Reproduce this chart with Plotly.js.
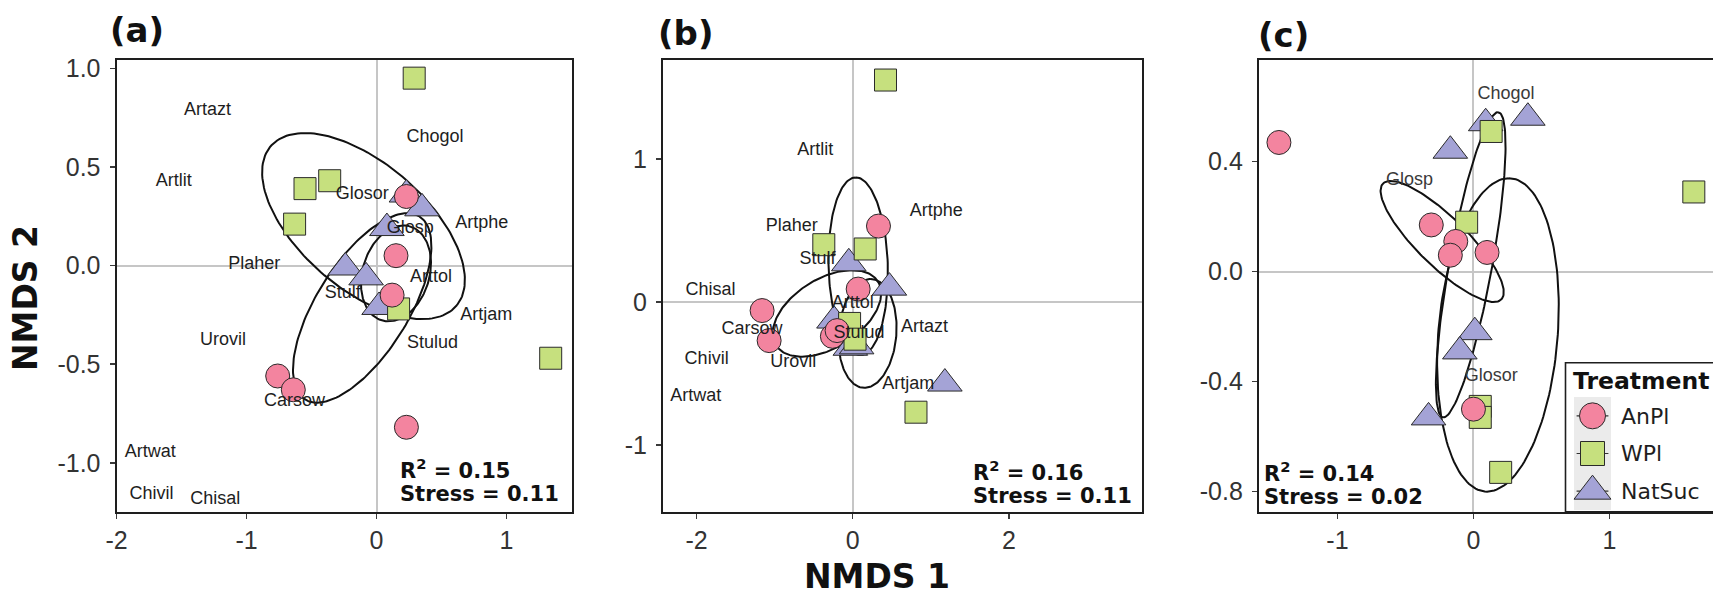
<!DOCTYPE html>
<html>
<head>
<meta charset="utf-8">
<script src="https://cdn.plot.ly/plotly-3.0.1.min.js"></script>
<style>
  html, body { margin: 0; padding: 0; background: #ffffff; overflow: hidden; }
  #fig { width: 1713px; height: 595px; }
</style>
</head>
<body>
<div id="fig"></div>
<script>
// ---------- data ----------
const TREATMENTS = ['AnPl', 'WPl', 'NatSuc'];

// (a) site scores
const A_ANPL_X = [0.23, 0.15, 0.12, -0.76, -0.64, 0.23];
const A_ANPL_Y = [0.35, 0.05, -0.15, -0.56, -0.63, -0.82];
const A_WPL_X = [0.29, -0.36, -0.55, -0.63, 0.17, 1.34];
const A_WPL_Y = [0.95, 0.43, 0.39, 0.21, -0.22, -0.47];
const A_NATSUC_X = [0.23, 0.35, 0.08, -0.24, -0.08, 0.02];
const A_NATSUC_Y = [0.36, 0.29, 0.19, -0.01, -0.06, -0.21];
// (a) species scores
const A_SPECIES = ['Artazt', 'Chogol', 'Artlit', 'Glosor', 'Artphe', 'Glosp', 'Plaher', 'Arttol',
                   'Stulf', 'Artjam', 'Urovil', 'Stulud', 'Carsow', 'Artwat', 'Chivil', 'Chisal'];
const A_SPECIES_X = [-1.30, 0.45, -1.56, -0.11, 0.81, 0.26, -0.94, 0.42,
                     -0.26, 0.845, -1.18, 0.43, -0.63, -1.74, -1.73, -1.24];
const A_SPECIES_Y = [0.785, 0.65, 0.426, 0.358, 0.211, 0.19, 0.007, -0.059,
                     -0.14, -0.252, -0.378, -0.395, -0.69, -0.948, -1.159, -1.184];
// (a) group ellipses: centre x, centre y, then two conjugate semi-diameters (x, y)
const A_ELLIPSE_ANPL = [-0.11, -0.215, 0.44, 0.464, -0.30, 0.124];
const A_ELLIPSE_WPL = [-0.10, 0.20, 0.72, -0.40, 0.30, 0.25];
const A_ELLIPSE_NATSUC = [0.15, -0.04, 0.10, 0.24, 0.25, -0.04];
const A_STATS = ['0.15', '0.11'];

// (b) site scores
const B_ANPL_X = [0.33, 0.07, -1.16, -1.07, -0.26, -0.20];
const B_ANPL_Y = [0.53, 0.09, -0.06, -0.27, -0.24, -0.20];
const B_WPL_X = [0.42, -0.37, 0.16, -0.04, 0.03, 0.81];
const B_WPL_Y = [1.55, 0.40, 0.37, -0.15, -0.26, -0.77];
const B_NATSUC_X = [-0.05, 0.47, -0.24, -0.03, 0.05, 1.18];
const B_NATSUC_Y = [0.27, 0.10, -0.13, -0.32, -0.31, -0.57];
// (b) species scores
const B_SPECIES = ['Artlit', 'Artphe', 'Plaher', 'Stulf', 'Chisal', 'Arttol', 'Artazt',
                   'Carsow', 'Stulud', 'Chivil', 'Urovil', 'Artjam', 'Artwat'];
const B_SPECIES_X = [-0.48, 1.07, -0.78, -0.45, -1.82, 0.0, 0.92, -1.29, 0.08, -1.87, -0.76, 0.71, -2.01];
const B_SPECIES_Y = [1.06, 0.635, 0.53, 0.30, 0.08, -0.01, -0.18, -0.19, -0.22, -0.40, -0.42, -0.58, -0.66];
// (b) group ellipses
const B_ELLIPSE_ANPL = [-0.33, -0.08, 0.69, 0.17, -0.08, 0.25];
const B_ELLIPSE_WPL = [0.07, 0.25, -0.03, 0.62, 0.38, 0.0];
const B_ELLIPSE_NATSUC = [0.19, -0.22, 0.04, 0.38, 0.37, 0.0];
const B_STATS = ['0.16', '0.11'];

// (c) site scores
const C_ANPL_X = [-1.43, -0.31, -0.13, -0.17, 0.10, 0.0];
const C_ANPL_Y = [0.47, 0.17, 0.11, 0.06, 0.07, -0.50];
const C_WPL_X = [0.13, -0.05, 1.62, 0.05, 0.05, 0.20];
const C_WPL_Y = [0.51, 0.18, 0.29, -0.49, -0.53, -0.73];
const C_NATSUC_X = [0.09, 0.40, -0.17, 0.01, -0.10, -0.33];
const C_NATSUC_Y = [0.54, 0.56, 0.44, -0.22, -0.29, -0.53];
// (c) species scores
const C_SPECIES = ['Chogol', 'Glosp', 'Glosor'];
const C_SPECIES_X = [0.24, -0.47, 0.13];
const C_SPECIES_Y = [0.645, 0.33, -0.38];
// (c) group ellipses
const C_ELLIPSE_ANPL = [-0.23, 0.11, 0.45, -0.17, -0.05, 0.14];
const C_ELLIPSE_WPL = [-0.02, 0.025, 0.20, 0.555, 0.16, 0.0];
const C_ELLIPSE_NATSUC = [0.18, -0.23, 0.08, 0.57, 0.44, 0.0];
const C_STATS = ['0.14', '0.02'];

// tick labels
const A_XTICKS = [-2, -1, 0, 1];
const A_XLABELS = ['-2', '-1', '0', '1'];
const A_YTICKS = [1.0, 0.5, 0.0, -0.5, -1.0];
const A_YLABELS = ['1.0', '0.5', '0.0', '-0.5', '-1.0'];
const B_XTICKS = [-2, 0, 2];
const B_XLABELS = ['-2', '0', '2'];
const B_YTICKS = [1, 0, -1];
const B_YLABELS = ['1', '0', '-1'];
const C_XTICKS = [-1, 0, 1];
const C_XLABELS = ['-1', '0', '1'];
const C_YTICKS = [0.4, 0.0, -0.4, -0.8];
const C_YLABELS = ['0.4', '0.0', '-0.4', '-0.8'];

// ---------- styling ----------
const W = 1713, H = 595;
const px = v => v / W;          // pixel column -> paper x
const py = v => 1 - v / H;      // pixel row -> paper y

const FILL = { AnPl: '#F3849F', WPl: '#C6E07E', NatSuc: '#A4A3D6' };
const SYMBOL = { AnPl: 'circle', WPl: 'square', NatSuc: 'triangle-up' };
const SIZE = { AnPl: 24, WPl: 22, NatSuc: 30 };
const EDGE = '#2a2a2a';
const SANS = 'Liberation Sans, Arial, sans-serif';
const TICKFONT = { family: SANS, size: 25, color: '#333333' };
const BOLD = 'DejaVu Sans, Verdana, sans-serif';

function ellipse(p, xa, ya) {
  const xs = [], ys = [];
  const n = 160;
  for (let i = 0; i <= n; i++) {
    const t = 2 * Math.PI * i / n;
    xs.push(p[0] + p[2] * Math.cos(t) + p[4] * Math.sin(t));
    ys.push(p[1] + p[3] * Math.cos(t) + p[5] * Math.sin(t));
  }
  return { type: 'scatter', mode: 'lines', x: xs, y: ys, xaxis: xa, yaxis: ya,
           line: { color: '#111111', width: 2 }, hoverinfo: 'skip', showlegend: false };
}

function sites(group, x, y, xa, ya) {
  return { type: 'scatter', mode: 'markers', x: x, y: y, xaxis: xa, yaxis: ya, name: group,
           marker: { symbol: SYMBOL[group], size: SIZE[group], color: FILL[group],
                     line: { color: EDGE, width: 1 } },
           cliponaxis: false, showlegend: false, hoverinfo: 'x+y' };
}

function species(names, x, y, xa, ya, color) {
  return { type: 'scatter', mode: 'text', x: x, y: y, text: names, xaxis: xa, yaxis: ya,
           textposition: 'middle center',
           textfont: { family: SANS, size: 18, color: color },
           hoverinfo: 'text', showlegend: false, cliponaxis: false };
}

const traces = [];
function panel(xa, ya, ells, nat, wpl, anpl, sp, spColor) {
  ells.forEach(e => traces.push(ellipse(e, xa, ya)));
  traces.push(sites('NatSuc', nat[0], nat[1], xa, ya));
  traces.push(sites('WPl', wpl[0], wpl[1], xa, ya));
  traces.push(sites('AnPl', anpl[0], anpl[1], xa, ya));
  traces.push(species(sp[0], sp[1], sp[2], xa, ya, spColor));
}

panel('x', 'y', [A_ELLIPSE_WPL, A_ELLIPSE_ANPL, A_ELLIPSE_NATSUC],
      [A_NATSUC_X, A_NATSUC_Y], [A_WPL_X, A_WPL_Y], [A_ANPL_X, A_ANPL_Y],
      [A_SPECIES, A_SPECIES_X, A_SPECIES_Y], '#1e1e1e');
panel('x2', 'y2', [B_ELLIPSE_WPL, B_ELLIPSE_ANPL, B_ELLIPSE_NATSUC],
      [B_NATSUC_X, B_NATSUC_Y], [B_WPL_X, B_WPL_Y], [B_ANPL_X, B_ANPL_Y],
      [B_SPECIES, B_SPECIES_X, B_SPECIES_Y], '#1e1e1e');
panel('x3', 'y3', [C_ELLIPSE_WPL, C_ELLIPSE_ANPL, C_ELLIPSE_NATSUC],
      [C_NATSUC_X, C_NATSUC_Y], [C_WPL_X, C_WPL_Y], [C_ANPL_X, C_ANPL_Y],
      [C_SPECIES, C_SPECIES_X, C_SPECIES_Y], '#3a3a3a');

// legend keys: one marker per treatment on its own small axis
TREATMENTS.forEach(g => {
  traces.push({
    type: 'scatter', mode: 'markers', x: [0], y: [g], xaxis: 'x4', yaxis: 'y4', name: g,
    marker: { symbol: SYMBOL[g], size: SIZE[g] + 2, color: FILL[g], line: { color: EDGE, width: 1 } },
    error_x: { type: 'constant', value: 0.86, width: 0, thickness: 1.2, color: '#333333' },
    showlegend: false, hoverinfo: 'name', cliponaxis: false
  });
});

// ---------- axes ----------
const PLOT_TOP = 60, PLOT_BOTTOM = 511.7;
function axis(domain, range, vals, labels, anchor, isX, mirror) {
  return {
    domain: domain, range: range, anchor: anchor, autorange: false,
    showgrid: false, zeroline: true, zerolinecolor: '#c6c6c6', zerolinewidth: 2,
    showline: true, mirror: mirror, linecolor: '#1e1e1e', linewidth: 2,
    ticks: 'outside', ticklen: 5, tickwidth: 1.5, tickcolor: '#3a3a3a',
    tickmode: 'array', tickvals: vals, ticktext: labels, tickfont: TICKFONT,
    ticklabelstandoff: isX ? 0 : 4, fixedrange: true, layer: 'above traces'
  };
}
const yDom = [py(PLOT_BOTTOM), py(PLOT_TOP)];

const layout = {
  width: W, height: H,
  margin: { l: 0, r: 0, t: 0, b: 0, pad: 0 },
  paper_bgcolor: '#ffffff', plot_bgcolor: 'rgba(0,0,0,0)',
  showlegend: false,
  xaxis: axis([px(116.5), px(571.5)], [-2.0, 1.5], A_XTICKS, A_XLABELS, 'y', true, true),
  yaxis: axis(yDom, [-1.248, 1.042], A_YTICKS, A_YLABELS, 'x', false, true),
  xaxis2: axis([px(662.9), px(1141.7)], [-2.43, 3.70], B_XTICKS, B_XLABELS, 'y2', true, true),
  yaxis2: axis(yDom, [-1.465, 1.69], B_YTICKS, B_YLABELS, 'x2', false, true),
  xaxis3: axis([px(1258.8), 1], [-1.578, 1.761], C_XTICKS, C_XLABELS, 'y3', true, true),
  yaxis3: axis(yDom, [-0.873, 0.77], C_YTICKS, C_YLABELS, 'x3', false, false),
  xaxis4: { domain: [px(1574), px(1611)], range: [-1, 1], anchor: 'y4', visible: false, fixedrange: true },
  yaxis4: { domain: [py(510), py(397)], type: 'category', categoryorder: 'array',
            categoryarray: TREATMENTS, range: [2.5, -0.5], anchor: 'x4', visible: false, fixedrange: true },
  shapes: [
    // legend frame and key background
    { type: 'rect', xref: 'paper', yref: 'paper', x0: px(1565.5), x1: px(1716), y0: py(511.7), y1: py(362.7),
      line: { color: '#1e1e1e', width: 1.6 }, fillcolor: '#ffffff', layer: 'below' },
    { type: 'rect', xref: 'paper', yref: 'paper', x0: px(1574), x1: px(1611), y0: py(510), y1: py(397),
      line: { width: 0 }, fillcolor: '#ebebeb', layer: 'below' }
  ],
  annotations: []
};

const ann = layout.annotations;
function label(text, x, y, size, opts) {
  ann.push(Object.assign({ text: text, xref: 'paper', yref: 'paper', x: px(x), y: py(y),
    xanchor: 'left', yanchor: 'middle', showarrow: false,
    font: { family: BOLD, size: size, color: '#111111' } }, opts || {}));
}
// panel tags
label('<b>(a)</b>', 108, 29.5, 34);
label('<b>(b)</b>', 656, 33, 34);
label('<b>(c)</b>', 1256, 35, 34);
// fit statistics
label('<b>R<sup>2</sup> = ' + A_STATS[0] + '</b>', 398, 469, 21);
label('<b>Stress = ' + A_STATS[1] + '</b>', 398, 494, 21);
label('<b>R<sup>2</sup> = ' + B_STATS[0] + '</b>', 971, 470.5, 21);
label('<b>Stress = ' + B_STATS[1] + '</b>', 971, 495.5, 21);
label('<b>R<sup>2</sup> = ' + C_STATS[0] + '</b>', 1262, 471.5, 21);
label('<b>Stress = ' + C_STATS[1] + '</b>', 1262, 497, 21);
// axis titles
label('<b>NMDS 1</b>', 877, 576, 33, { xanchor: 'center' });
label('<b>NMDS 2</b>', 25, 298, 33, { xanchor: 'center', textangle: -90 });
// legend title and entries
label('<b>Treatment</b>', 1571, 381, 23.5);
const LEGEND_ROWS = [416, 453.5, 491];
TREATMENTS.forEach((g, i) => {
  ann.push({ text: g, xref: 'paper', yref: 'paper', x: px(1619), y: py(LEGEND_ROWS[i]),
             xanchor: 'left', yanchor: 'middle', showarrow: false,
             font: { family: BOLD, size: 22, color: '#1e1e1e' } });
});

Plotly.newPlot('fig', traces, layout, { displayModeBar: false, staticPlot: true });
</script>
</body>
</html>
